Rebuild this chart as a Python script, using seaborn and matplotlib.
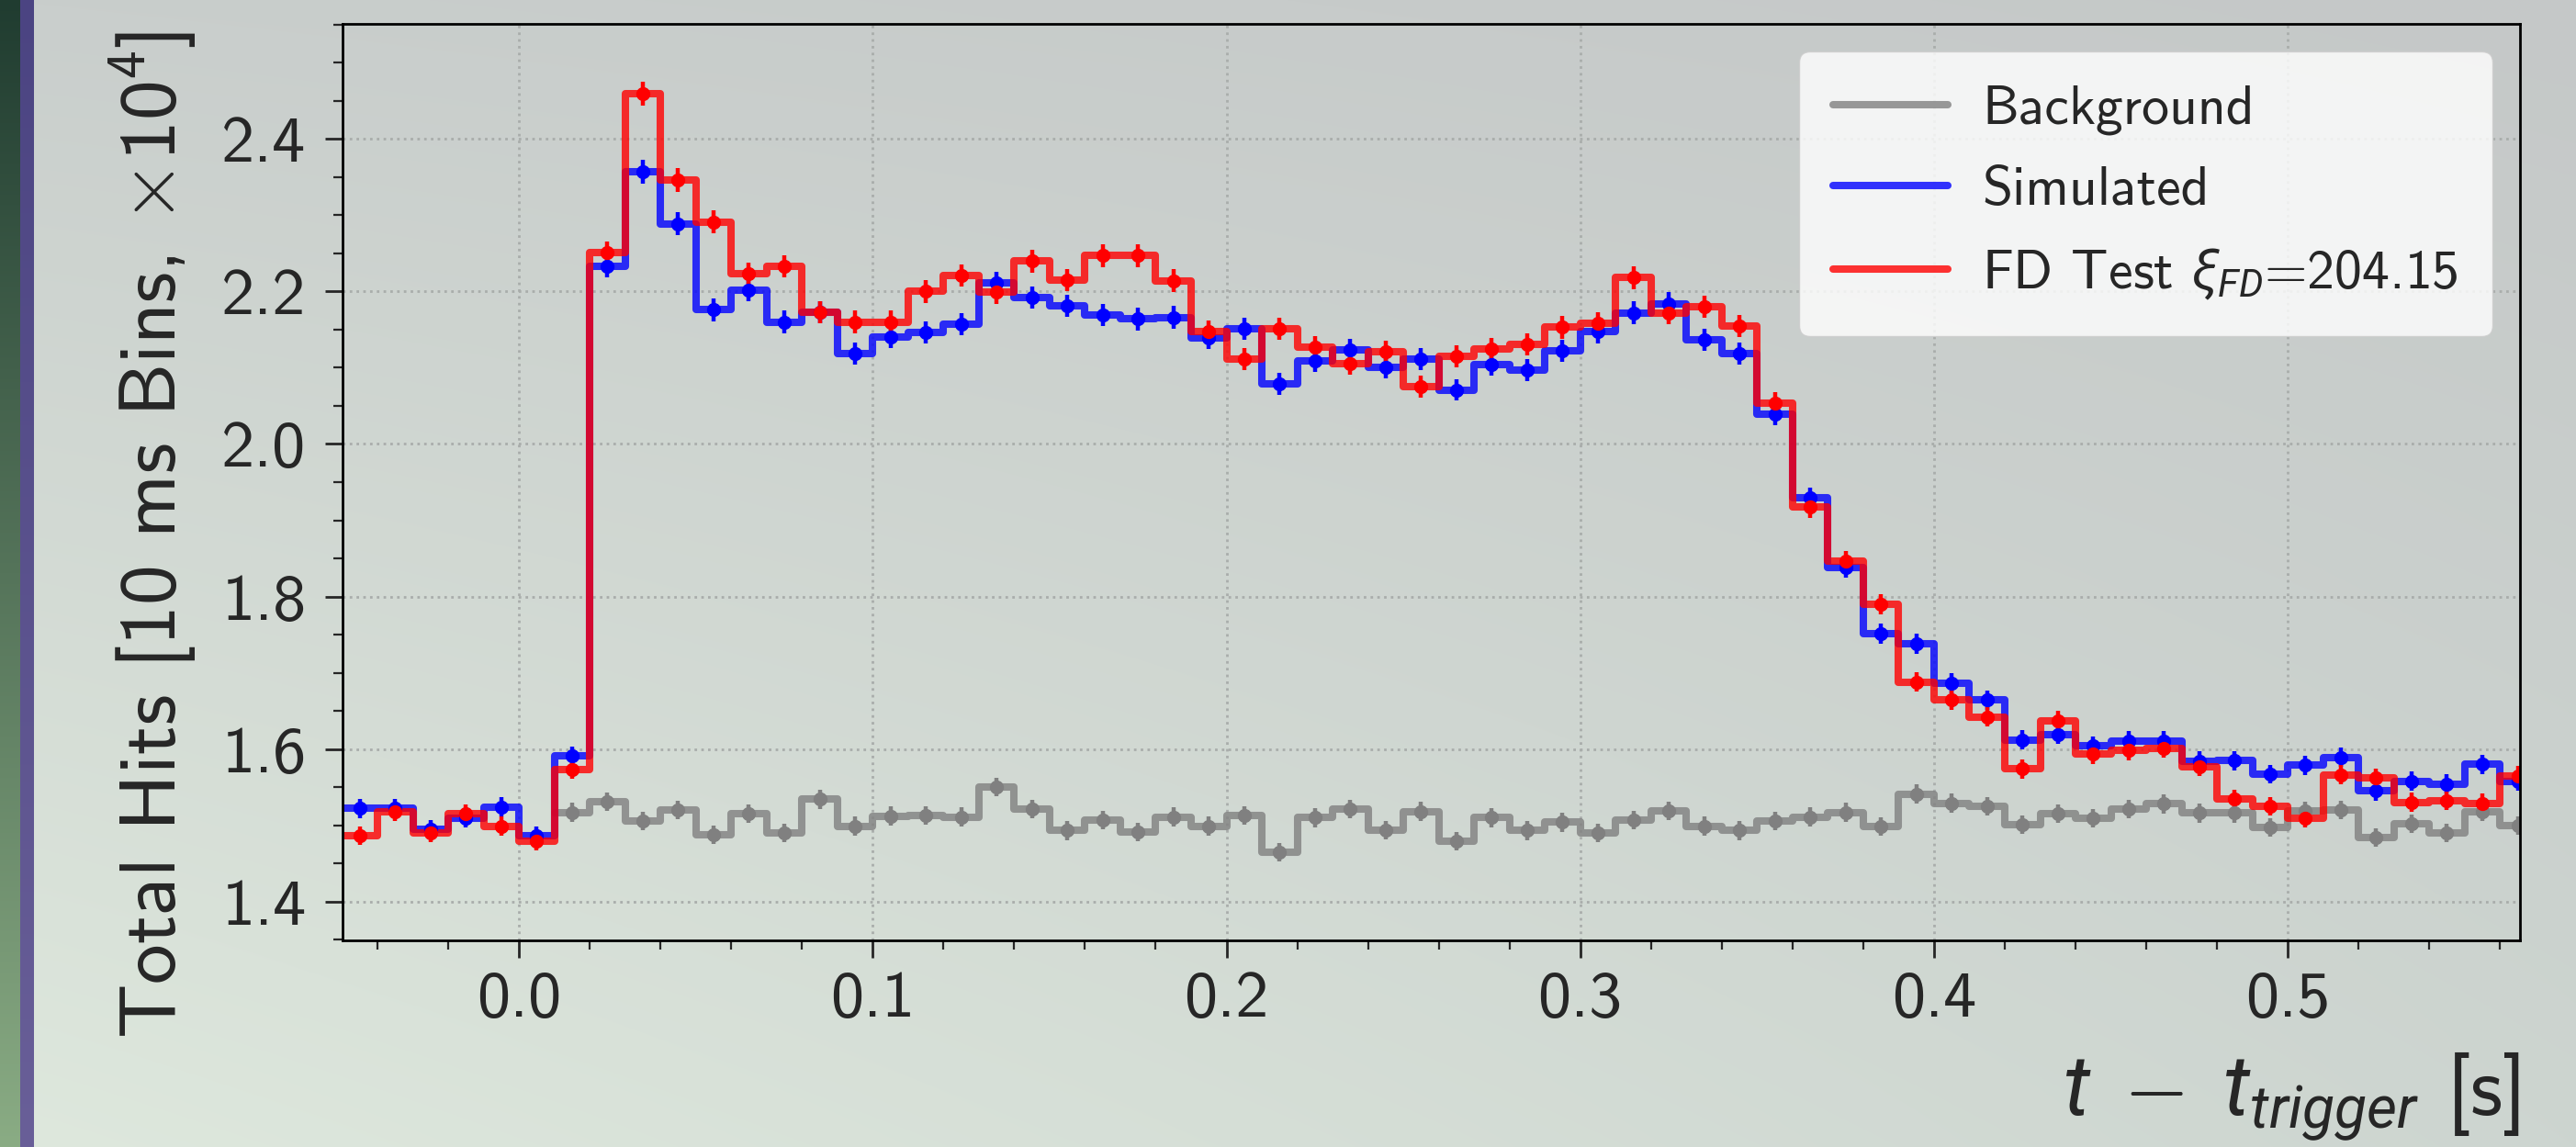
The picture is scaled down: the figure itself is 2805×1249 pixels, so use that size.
import numpy as np
import pandas as pd
import matplotlib
matplotlib.use("Agg")
from matplotlib import pyplot as plt
from matplotlib.ticker import MultipleLocator
import seaborn as sns

# 10 ms bins, values in units of 10^4 hits
bin_width = 0.01
sig_start = -0.05
bkg_start = 0.01

sim_hits = [1.522, 1.522, 1.495, 1.509, 1.524, 1.486, 1.591, 2.233, 2.357, 2.289,
            2.176, 2.202, 2.160, 2.173, 2.119, 2.140, 2.146, 2.157, 2.211, 2.192,
            2.181, 2.169, 2.164, 2.166, 2.139, 2.151, 2.079, 2.109, 2.123, 2.101,
            2.111, 2.071, 2.104, 2.097, 2.122, 2.147, 2.172, 2.184, 2.137, 2.119,
            2.039, 1.929, 1.838, 1.751, 1.738, 1.686, 1.664, 1.612, 1.619, 1.604,
            1.611, 1.611, 1.584, 1.585, 1.567, 1.579, 1.589, 1.545, 1.558, 1.554,
            1.580, 1.558]

fd_hits = [1.486, 1.518, 1.490, 1.515, 1.499, 1.479, 1.573, 2.251, 2.459, 2.346,
           2.291, 2.223, 2.233, 2.173, 2.160, 2.160, 2.200, 2.221, 2.199, 2.240,
           2.215, 2.247, 2.247, 2.214, 2.147, 2.111, 2.151, 2.127, 2.105, 2.121,
           2.075, 2.115, 2.125, 2.131, 2.153, 2.158, 2.218, 2.172, 2.180, 2.155,
           2.054, 1.917, 1.846, 1.790, 1.688, 1.664, 1.642, 1.574, 1.637, 1.593,
           1.598, 1.601, 1.577, 1.534, 1.525, 1.509, 1.566, 1.562, 1.530, 1.532,
           1.529, 1.565]

bkg_hits = [1.517, 1.531, 1.506, 1.520, 1.488, 1.515, 1.490, 1.534, 1.499, 1.512,
            1.513, 1.511, 1.550, 1.521, 1.493, 1.507, 1.491, 1.511, 1.499, 1.513,
            1.465, 1.510, 1.521, 1.494, 1.518, 1.479, 1.510, 1.493, 1.504, 1.490,
            1.507, 1.519, 1.499, 1.493, 1.506, 1.511, 1.517, 1.498, 1.541, 1.529,
            1.525, 1.501, 1.515, 1.509, 1.521, 1.528, 1.516, 1.516, 1.497, 1.519,
            1.520, 1.484, 1.502, 1.490, 1.518, 1.500]

labels = ["Background", "Simulated", r"FD Test $\xi_{FD}$=204.15"]

sns.set_style("ticks")
plt.rcParams["font.family"] = ["cmss10", "DejaVu Sans"]
plt.rcParams["mathtext.fontset"] = "custom"
plt.rcParams["mathtext.rm"] = "cmss10"
plt.rcParams["mathtext.it"] = "Roboto:italic"
plt.rcParams["axes.unicode_minus"] = False

fig = plt.figure(figsize=(28.05, 12.49), dpi=100)

# photo-like backdrop behind the plot
H, W = 1249, 2805
yy = np.linspace(0, 1, H)[:, None, None]
xx = np.linspace(0, 1, W)[None, :, None]
tl = np.array([201, 206, 204]) / 255
tr = np.array([197, 200, 200]) / 255
bl = np.array([222, 232, 221]) / 255
br = np.array([205, 213, 208]) / 255
img = (1 - yy) * ((1 - xx) * tl + xx * tr) + yy * ((1 - xx) * bl + xx * br)
img[:, :22] = (1 - yy) * np.array([32, 60, 48]) / 255 + yy * np.array([138, 172, 132]) / 255
img[:, 22:37] = (1 - yy) * np.array([75, 68, 130]) / 255 + yy * np.array([105, 95, 152]) / 255
bg = fig.add_axes([0, 0, 1, 1], zorder=-1)
bg.imshow(img, aspect="auto", extent=[0, 1, 0, 1], interpolation="nearest")
bg.axis("off")

ax = fig.add_axes([0.1328, 0.1801, 0.8454, 0.7991])
ax.set_facecolor("none")

handles = []
for vals, start, col, mcol, lab in [(bkg_hits, bkg_start, "grey", "#808080", labels[0]),
                                    (sim_hits, sig_start, "blue", "blue", labels[1]),
                                    (fd_hits, sig_start, "red", "red", labels[2])]:
    vals = np.array(vals)
    edges = start + bin_width * np.arange(len(vals) + 1)
    df = pd.DataFrame({"t": edges[:-1] + bin_width / 2, "hits": vals})
    sns.histplot(data=df, x="t", weights="hits", bins=edges.tolist(), element="step",
                 fill=False, color=col, alpha=0.8, linewidth=5.8, ax=ax)
    step = ax.lines[-1]
    step.set_label(lab)
    handles.append(step)
    err = np.sqrt(vals * 1e4) / 1e4
    ax.errorbar(df["t"], df["hits"], yerr=err, fmt="o", color=mcol, ms=10,
                elinewidth=3.2, capsize=0)

ax.set_xlim(-0.05, 0.5656)
ax.set_ylim(1.349, 2.551)
ax.xaxis.set_major_locator(MultipleLocator(0.1))
ax.xaxis.set_minor_locator(MultipleLocator(0.02))
ax.yaxis.set_major_locator(MultipleLocator(0.2))
ax.yaxis.set_minor_locator(MultipleLocator(0.05))
ax.tick_params(which="major", direction="out", length=14, width=2, labelsize=52)
ax.tick_params(which="minor", direction="out", length=7, width=1.6)
ax.tick_params(axis="x", which="major", pad=10)
ax.tick_params(axis="y", which="major", pad=14)
for s in ax.spines.values():
    s.set_linewidth(2)
    s.set_color("black")
ax.grid(True, which="major", ls=":", lw=2, color="#a9adab")
ax.set_axisbelow(True)

ax.set_xlabel(r"$t\;-\;t_{trigger}$ [s]", fontsize=66, loc="right")
ax.set_ylabel(r"Total Hits [10 ms Bins, $\times10^4$]", fontsize=63, loc="top")
ax.xaxis.set_label_coords(1.0, -0.12)
ax.yaxis.set_label_coords(-0.066, 0.991)

ax.legend(handles=handles, loc="upper right", fontsize=43, framealpha=0.8,
          handlelength=2.1, handletextpad=0.62, labelspacing=0.56, borderpad=0.62)

fig.savefig("out.png", dpi=100)
